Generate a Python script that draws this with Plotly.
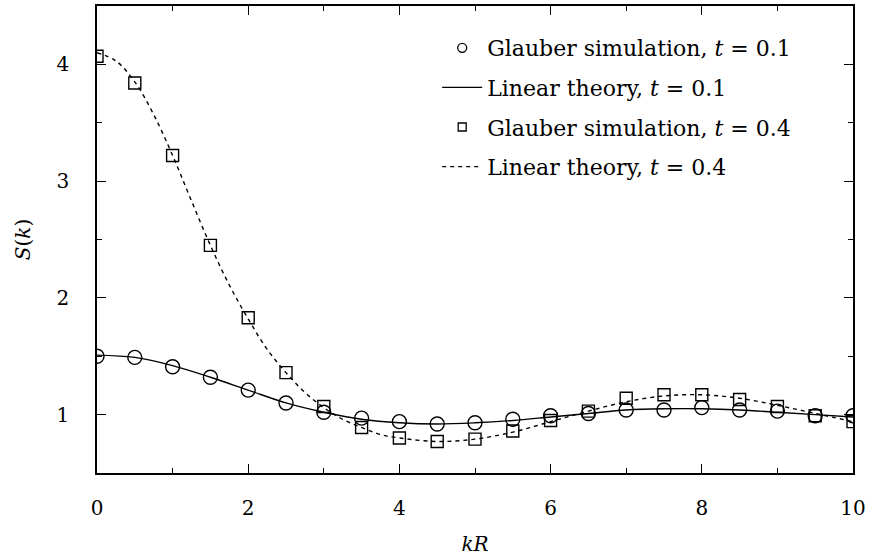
import plotly.graph_objects as go

# Simulation points
kR_sim = [0, 0.5, 1, 1.5, 2, 2.5, 3, 3.5, 4, 4.5, 5, 5.5, 6, 6.5, 7, 7.5, 8, 8.5, 9, 9.5, 10]
S_sim_t01 = [1.50, 1.49, 1.41, 1.32, 1.21, 1.10, 1.02, 0.97, 0.94, 0.92, 0.93, 0.96, 0.99,
             1.01, 1.04, 1.04, 1.06, 1.04, 1.03, 0.99, 0.99]
S_sim_t04 = [4.07, 3.84, 3.22, 2.45, 1.83, 1.36, 1.07, 0.89, 0.80, 0.77, 0.79, 0.86, 0.95,
             1.03, 1.14, 1.17, 1.17, 1.13, 1.07, 0.99, 0.94]

# Linear theory curves
kR_th1 = [0, 0.5, 1, 1.5, 2, 2.5, 3, 3.5, 4, 4.5, 5, 5.5, 6, 6.5, 7, 7.5, 8, 8.5, 9, 9.5, 10]
S_th_t01 = [1.51, 1.49, 1.42, 1.32, 1.21, 1.10, 1.02, 0.96, 0.93, 0.92, 0.93, 0.95, 0.98,
            1.01, 1.04, 1.05, 1.05, 1.04, 1.02, 1.00, 0.98]
kR_th4 = [0, 0.25, 0.5, 0.75, 1, 1.25, 1.5, 1.75, 2, 2.25, 2.5, 2.75, 3, 3.25, 3.5, 3.75,
          4, 4.5, 5, 5.5, 6, 6.5, 7, 7.5, 8, 8.5, 9, 9.5, 10]
S_th_t04 = [4.10, 4.03, 3.85, 3.57, 3.22, 2.83, 2.45, 2.11, 1.82, 1.56, 1.36, 1.19, 1.06,
            0.96, 0.89, 0.83, 0.80, 0.77, 0.79, 0.85, 0.94, 1.03, 1.11, 1.16, 1.17, 1.14,
            1.08, 1.01, 0.94]

x_ticks = [0, 2, 4, 6, 8, 10]
y_ticks = [1, 2, 3, 4]

legend_labels = ["Glauber simulation, <i>t</i> = 0.1", "Linear theory, <i>t</i> = 0.1",
                 "Glauber simulation, <i>t</i> = 0.4", "Linear theory, <i>t</i> = 0.4"]

FONT = "DejaVu Serif, serif"
FS = 20
LFS = 22
fig = go.Figure()

fig.add_trace(go.Scatter(x=kR_th1, y=S_th_t01, mode="lines", line=dict(color="black", width=1.4, shape="spline"),
                         showlegend=False))
fig.add_trace(go.Scatter(x=kR_th4, y=S_th_t04, mode="lines",
                         line=dict(color="black", width=1.4, dash="4px,4px", shape="spline"), showlegend=False))
fig.add_trace(go.Scatter(x=kR_sim, y=S_sim_t01, mode="markers",
                         marker=dict(symbol="circle-open", size=14, color="black", line=dict(width=1.4)),
                         showlegend=False))
fig.add_trace(go.Scatter(x=kR_sim, y=S_sim_t04, mode="markers",
                         marker=dict(symbol="square-open", size=12, color="black", line=dict(width=1.4)),
                         showlegend=False))

# legend-only entries
fig.add_trace(go.Scatter(x=[None], y=[None], mode="markers", name=legend_labels[0], legendgroup="a",
                         marker=dict(symbol="circle-open", size=9, color="black", line=dict(width=1.3))))
fig.add_trace(go.Scatter(x=[None], y=[None], mode="lines", name=legend_labels[1], legendgroup="b",
                         line=dict(color="black", width=1.4)))
fig.add_trace(go.Scatter(x=[None], y=[None], mode="markers", name=legend_labels[2], legendgroup="c",
                         marker=dict(symbol="square-open", size=8, color="black", line=dict(width=1.3))))
fig.add_trace(go.Scatter(x=[None], y=[None], mode="lines", name=legend_labels[3], legendgroup="d",
                         line=dict(color="black", width=1.4, dash="4px,4px")))

axis_common = dict(showline=True, linecolor="black", linewidth=1.6, mirror="ticks",
                   ticks="inside", ticklen=9, tickwidth=1.3, tickcolor="black",
                   showgrid=False, zeroline=False, automargin=False,
                   tickfont=dict(family=FONT, size=FS, color="black"))

fig.update_xaxes(range=[0, 10], tickvals=x_ticks, ticklabelstandoff=16,
                 minor=dict(ticks="inside", ticklen=5, dtick=1, tickwidth=1.3, tickcolor="black"),
                 title=dict(text="<i>kR</i>", font=dict(family=FONT, size=FS, color="black"), standoff=24),
                 **axis_common)
fig.update_yaxes(range=[0.5, 4.5], tickvals=y_ticks, ticklabelstandoff=22,
                 minor=dict(ticks="inside", ticklen=5, dtick=0.5, tick0=0.5, tickwidth=1.3, tickcolor="black"),
                 title=dict(text="<i>S</i>(<i>k</i>)", font=dict(family=FONT, size=FS, color="black"), standoff=20),
                 **axis_common)

fig.update_layout(
    width=869, height=556,
    margin=dict(l=97, r=16, t=6, b=83),
    plot_bgcolor="white", paper_bgcolor="white",
    legend=dict(x=0.45, y=0.955, xanchor="left", yanchor="top", bgcolor="rgba(0,0,0,0)",
                font=dict(family=FONT, size=LFS, color="black"), tracegroupgap=8, itemwidth=40),
)

fig.write_html("out.html")
